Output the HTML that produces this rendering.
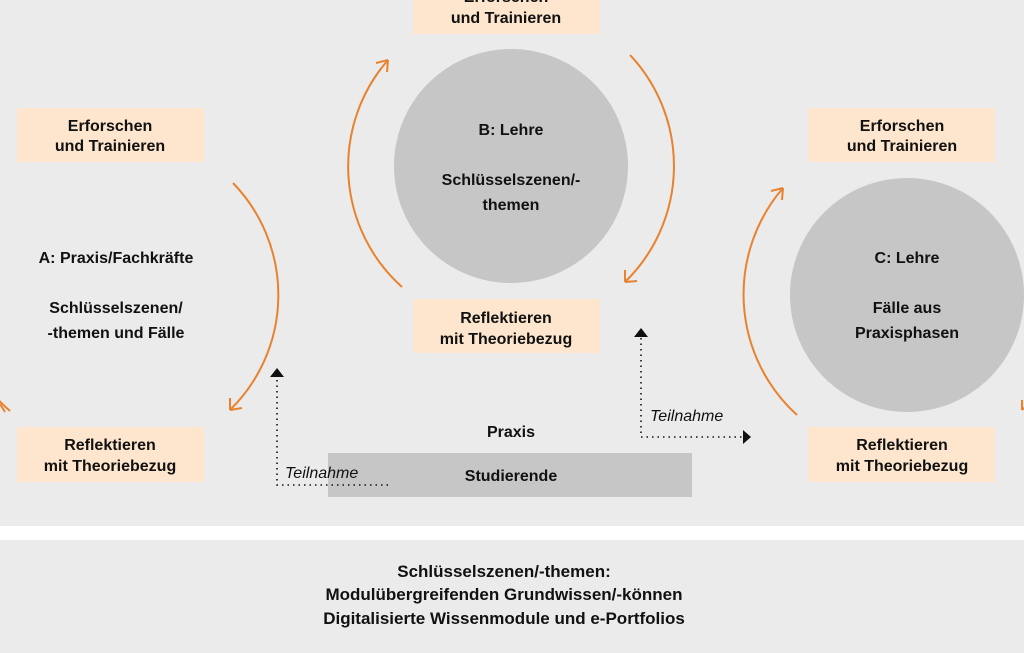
<!DOCTYPE html>
<html><head><meta charset="utf-8"><style>
html,body{margin:0;padding:0;background:#ebebeb}
svg{display:block}
text{font-family:"Liberation Sans","DejaVu Sans",sans-serif;font-weight:bold;font-size:16px;fill:#111;text-anchor:middle}
.it{font-style:italic;font-weight:normal;text-anchor:start}
.bt{font-size:17px}
</style></head><body>
<svg width="1024" height="653" viewBox="0 0 1024 653" xmlns="http://www.w3.org/2000/svg">
<rect x="0" y="0" width="1024" height="653" fill="#ebebeb"/>
<rect x="0" y="526" width="1024" height="14" fill="#fff"/>
<circle cx="511" cy="166" r="117" fill="#c6c6c6"/>
<circle cx="907" cy="295" r="117" fill="#c6c6c6"/>
<g fill="#fde6cd">
<rect x="17" y="108" width="187" height="54"/>
<rect x="17" y="427" width="187" height="55"/>
<rect x="413" y="0" width="187" height="34"/>
<rect x="413" y="299" width="187" height="54"/>
<rect x="808" y="108" width="187" height="54"/>
<rect x="808" y="427" width="187" height="55"/>
</g>
<rect x="328" y="453" width="364" height="44" fill="#c6c6c6"/>
<g fill="none" stroke="#e8822e" stroke-width="2">
<path d="M233,183 A161,161 0 0 1 230,410"/>
<path d="M230,410 l0,-12 M230,410 l12,-2"/>
<path d="M10,411 A161,161 0 0 1 -6,184"/>
<path d="M0,404 l5,8"/>
<path d="M402,287 A162,162 0 0 1 388,60"/>
<path d="M388,60 l-12,3 M388,60 l-1,12"/>
<path d="M630,55 A162,162 0 0 1 625,282"/>
<path d="M625,282 l0,-12 M625,282 l12,-1"/>
<path d="M797,415 A163,163 0 0 1 783,188"/>
<path d="M783,188 l-12,3 M783,188 l-1,12"/>
<path d="M1030,180 A163,163 0 0 1 1022,410"/>
<path d="M1022,410 l0,-10"/>
</g>
<g fill="none" stroke="#111" stroke-width="1.6" stroke-dasharray="1.5,4">
<path d="M388,485 L277,485 L277,378"/>
<path d="M641,338 L641,437 L744,437"/>
</g>
<path d="M270,377 L284,377 L277,368 Z" fill="#111"/>
<path d="M634,337 L648,337 L641,328 Z" fill="#111"/>
<path d="M743,430 L743,444 L751,437 Z" fill="#111"/>
<text class="it" x="285" y="478">Teilnahme</text>
<text class="it" x="650" y="421">Teilnahme</text>
<text x="110" y="131">Erforschen</text>
<text x="110" y="151">und Trainieren</text>
<text x="110" y="450">Reflektieren</text>
<text x="110" y="471">mit Theoriebezug</text>
<text x="506" y="2">Erforschen</text>
<text x="506" y="23">und Trainieren</text>
<text x="506" y="323">Reflektieren</text>
<text x="506" y="344">mit Theoriebezug</text>
<text x="902" y="131">Erforschen</text>
<text x="902" y="151">und Trainieren</text>
<text x="902" y="450">Reflektieren</text>
<text x="902" y="471">mit Theoriebezug</text>
<text x="116" y="263">A: Praxis/Fachkräfte</text>
<text x="116" y="313">Schlüsselszenen/</text>
<text x="116" y="338">-themen und Fälle</text>
<text x="511" y="135">B: Lehre</text>
<text x="511" y="185">Schlüsselszenen/-</text>
<text x="511" y="210">themen</text>
<text x="907" y="263">C: Lehre</text>
<text x="907" y="313">Fälle aus</text>
<text x="907" y="338">Praxisphasen</text>
<text x="511" y="437">Praxis</text>
<text x="511" y="481">Studierende</text>
<text class="bt" x="504" y="577">Schlüsselszenen/-themen:</text>
<text class="bt" x="504" y="600">Modulübergreifenden Grundwissen/-können</text>
<text class="bt" x="504" y="624">Digitalisierte Wissenmodule und e-Portfolios</text>
</svg>
</body></html>
